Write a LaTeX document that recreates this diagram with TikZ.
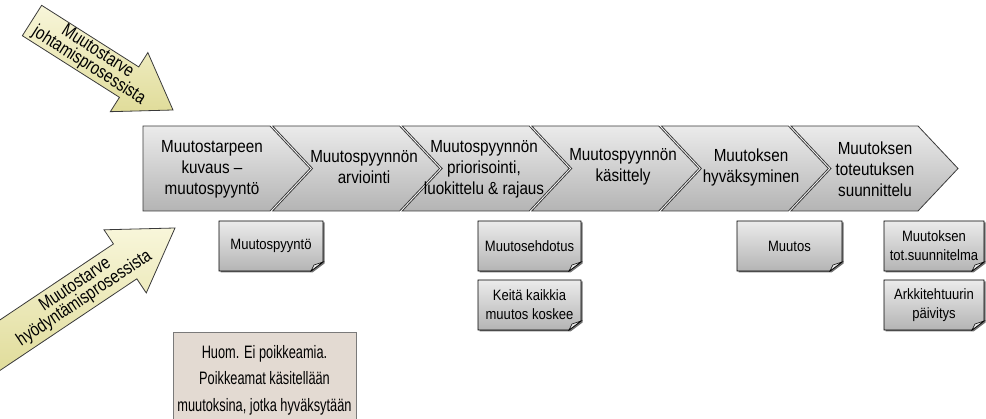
\documentclass[tikz,border=0pt]{standalone}
\usepackage{fontspec}
\setmainfont{Liberation Sans}[FakeStretch=0.87]
\newfontfamily\notefont{Liberation Sans}[FakeStretch=0.71]
\newfontfamily\arrowfont{Liberation Sans}[FakeStretch=0.8]
\definecolor{chevtop}{HTML}{EBEBEB}
\definecolor{chevbot}{HTML}{B4B4B4}
\definecolor{edgegray}{HTML}{3A3A3A}
\definecolor{notefill}{HTML}{E3DAD2}
\definecolor{noteedge}{HTML}{7A7A7A}
\definecolor{arrowlight}{HTML}{F8F6DA}
\definecolor{arrowdark}{HTML}{E0DC9A}
\begin{document}
\begin{tikzpicture}[x=1pt,y=-1pt,
  chev/.style={draw=edgegray, line width=0.8pt, top color=chevtop, bottom color=chevbot, line join=miter},
  chevtext/.style={align=center, inner sep=0pt, font=\fontsize{17.5}{21}\selectfont},
  docshadow/.style={fill=black!55},
  docshape/.style={draw=black, line width=0.9pt, top color=chevtop, bottom color=chevbot},
  docfold/.style={draw=black, line width=0.6pt, fill=chevtop},
  doctext/.style={align=center, inner sep=0pt, font=\fontsize{15}{19}\selectfont},
  notebox/.style={draw=noteedge, line width=0.8pt, fill=notefill},
  notetext/.style={align=center, inner sep=0pt, font=\notefont\fontsize{18}{26.5}\selectfont},
  yarrow/.style={draw=edgegray, line width=0.8pt, top color=arrowlight, bottom color=arrowdark},
  arrowtext/.style={align=center, inner sep=0pt, font=\arrowfont\fontsize{18.5}{16.5}\selectfont}]
\useasboundingbox (0,0) rectangle (986,419);
\clip (0,0) rectangle (986,419);

% process chevrons
\path[chev] (143,126) -- ++(127,0) -- ++(40,42.5) -- ++(-40,42.5) -- ++(-127,0) -- cycle;
\foreach \i in {1,...,5} {
  \pgfmathsetmacro\cx{143+129.6*\i}
  \path[chev] (\cx,126) -- ++(127,0) -- ++(40,42.5) -- ++(-40,42.5) -- ++(-127,0) -- ++(40,-42.5) -- cycle;
}
\node[chevtext] (c1) at (212,169) {Muutostarpeen\\kuvaus –\\muutospyyntö};
\node[chevtext] (c2) at (364,167) {Muutospyynnön\\arviointi};
\node[chevtext] (c3) at (484,169) {Muutospyynnön\\priorisointi,\\luokittelu \& rajaus};
\node[chevtext] (c4) at (623,167) {Muutospyynnön\\käsittely};
\node[chevtext] (c5) at (751,167) {Muutoksen\\hyväksyminen};
\node[chevtext] (c6) at (875,169) {Muutoksen\\toteutuksen\\suunnittelu};

% documents with a folded corner and a thin drop shadow
\newcommand\docbox[6]{%
  \path[docshadow] (#2+1.5,#3+1.5) -- (#4+1.5,#3+1.5) -- (#4+1.5,#5-7.5) -- (#4-10.5,#5+1.5) -- (#2+1.5,#5+1.5) -- cycle;
  \path[docshape] (#2,#3) -- (#4,#3) -- (#4,#5-9) -- (#4-12,#5) -- (#2,#5) -- cycle;
  \path[docfold] (#4,#5-9) -- (#4-9,#5-6) -- (#4-12,#5) -- cycle;
  \node[doctext] (#1) at ({(#2+#4)/2},{(#3+#5)/2}) {#6};
}
\docbox{d1}{219}{221}{323}{271}{Muutospyyntö}
\docbox{d2}{478}{221}{581}{271}{Muutosehdotus}
\docbox{d3}{478}{280}{581}{330}{Keitä kaikkia\\muutos koskee}
\docbox{d4}{737}{221}{842}{271}{Muutos}
\docbox{d5}{884}{221}{984}{271}{Muutoksen\\tot.suunnitelma}
\docbox{d6}{884}{280}{984}{330}{Arkkitehtuurin\\päivitys}

% note
\path[notebox] (173,332) rectangle (356,430);
\node[notetext] (note) at (264.5,380) {Huom. Ei poikkeamia.\\Poikkeamat käsitellään\\muutoksina, jotka hyväksytään};

% incoming arrows
\begin{scope}[shift={(173,110)}, rotate=-32.4]
  \path[yarrow] (0,0) -- (-52,35) -- (-52,18) -- (-167,18) -- (-167,-18) -- (-52,-18) -- (-52,-35) -- cycle;
\end{scope}
\node[arrowtext, rotate=-32.4] (a1) at (93,59) {Muutostarve\\johtamisprosessista};
\begin{scope}[shift={(175,228)}, rotate=33.8]
  \path[yarrow] (0,0) -- (-60,38) -- (-60,21) -- (-230,21) -- (-230,-21) -- (-60,-21) -- (-60,-38) -- cycle;
\end{scope}
\node[arrowtext, rotate=33.8] (a2) at (80,292) {Muutostarve\\hyödyntämisprosessista};
\end{tikzpicture}
\end{document}
